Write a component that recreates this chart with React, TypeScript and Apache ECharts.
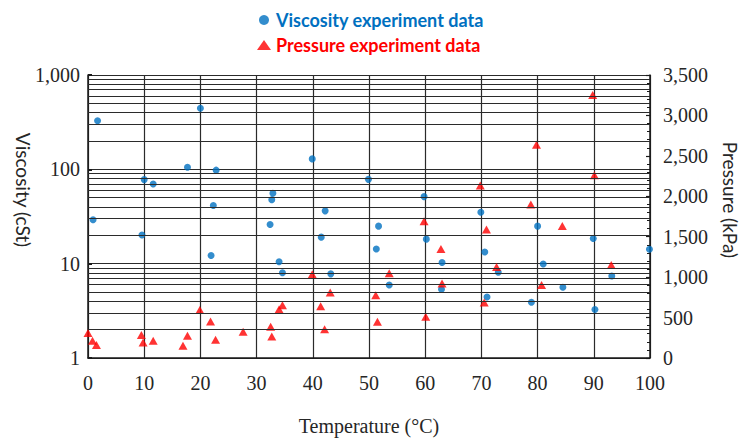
import React, { useEffect, useRef } from 'react';
import * as echarts from 'echarts';

const viscTemp = [1.7, 0.9, 9.6, 10.0, 11.6, 17.7, 20.0, 21.9, 22.3, 22.8, 32.4, 32.7, 32.9, 34.0, 34.6, 39.9, 41.5, 42.2, 43.2, 49.9, 51.3, 51.7, 53.6, 59.8, 60.2, 62.9, 63.0, 69.9, 70.6, 71.0, 73.0, 78.9, 80.0, 81.0, 84.5, 89.9, 90.2, 93.2, 99.9];
const viscValue = [327, 29.2, 20.1, 77.8, 70, 105, 445, 12.2, 41.3, 98, 26, 47.5, 55.7, 10.5, 8.0, 129, 19.1, 36.3, 7.8, 78.3, 14.3, 25, 5.95, 51.4, 18.2, 5.36, 10.3, 35.1, 13.3, 4.44, 8.1, 3.9, 25.0, 9.9, 5.62, 18.5, 3.27, 7.4, 14.2];

const presTemp = [0, 0.8, 1.5, 9.5, 9.8, 11.6, 16.9, 17.7, 19.9, 21.8, 22.7, 27.6, 32.5, 32.7, 34.0, 34.6, 39.9, 41.4, 42.1, 43.1, 51.2, 51.5, 53.6, 59.8, 60.1, 62.8, 63.0, 69.8, 70.5, 70.9, 72.7, 78.8, 79.8, 80.7, 84.4, 89.8, 90.1, 93.1];
const presValue = [308, 213, 160, 283, 193, 213, 152, 275, 595, 452, 226, 324, 386, 267, 604, 653, 1035, 641, 357, 810, 776, 448, 1048, 1692, 509, 1347, 920, 2132, 686, 1590, 1125, 1898, 2637, 903, 1631, 3254, 2259, 1150];

const viscMinorGrid = [2, 3, 4, 5, 6, 7, 8, 9, 20, 30, 40, 50, 60, 70, 80, 90, 200, 300, 400, 500, 600, 700, 800, 900];

const seriesNames = ['Viscosity experiment data', 'Pressure experiment data'];
const xTitle = 'Temperature (°C)';
const leftTitle = 'Viscosity (cSt)';
const rightTitle = 'Pressure (kPa)';

const BLUE = '#0070C0';
const RED = '#FF0000';
const GRID = '#2b2b2b';
const AXIS = '#1a1a1a';
const TXT = '#262626';
const SERIF = 'Liberation Serif';

const fmt = (v: number) => Number(v).toLocaleString('en-US');

export default function App() {
  const ref = useRef<HTMLDivElement>(null);
  useEffect(() => {
    if (!ref.current) return;
    const chart = echarts.init(ref.current, undefined, { renderer: 'svg' });
    const labelFont = { fontFamily: SERIF, fontSize: 20, color: TXT };
    chart.setOption({
      animation: false,
      backgroundColor: '#ffffff',
      grid: { left: 88, right: 90, top: 75, bottom: 82, containLabel: false },
      legend: {
        orient: 'vertical',
        left: 252,
        top: 6,
        itemWidth: 14,
        itemHeight: 10,
        itemGap: 7,
        selectedMode: false,
        textStyle: { fontFamily: 'Lato', fontWeight: 'bold', fontSize: 18, lineHeight: 18 },
        data: [
          { name: seriesNames[0], textStyle: { color: BLUE, fontFamily: 'Lato', fontWeight: 'bold', fontSize: 18 } },
          { name: seriesNames[1], textStyle: { color: RED, fontFamily: 'Lato', fontWeight: 'bold', fontSize: 18 } },
        ],
      },
      xAxis: {
        type: 'value',
        min: 0,
        max: 100,
        interval: 10,
        axisLine: { show: true, lineStyle: { color: AXIS, width: 1.5 } },
        axisTick: { show: false },
        splitLine: { show: true, lineStyle: { color: GRID, width: 1.2 } },
        axisLabel: { ...labelFont, margin: 15 },
        name: xTitle,
        nameLocation: 'middle',
        nameGap: 58,
        nameTextStyle: { fontFamily: SERIF, fontSize: 20, color: TXT },
      },
      yAxis: [
        {
          type: 'log',
          logBase: 10,
          min: 1,
          max: 1000,
          position: 'left',
          axisLine: { show: true, lineStyle: { color: AXIS, width: 1.5 } },
          axisTick: { show: true, inside: true, length: 4, lineStyle: { color: AXIS, width: 2 } },
          splitLine: { show: true, lineStyle: { color: GRID, width: 1.2 } },
          axisLabel: { ...labelFont, margin: 8, formatter: (v: number) => fmt(v) },
        },
        {
          type: 'value',
          min: 0,
          max: 3500,
          interval: 500,
          position: 'right',
          axisLine: { show: true, lineStyle: { color: AXIS, width: 1.5 } },
          axisTick: { show: true, inside: true, length: 4, lineStyle: { color: AXIS, width: 1.2 } },
          minorTick: { show: true, splitNumber: 5, length: 3, lineStyle: { color: AXIS, width: 1 } },
          splitLine: { show: false },
          axisLabel: { ...labelFont, margin: 13, formatter: (v: number) => fmt(v) },
        },
      ],
      series: [
        {
          type: 'scatter',
          name: 'minor-grid',
          data: [],
          yAxisIndex: 0,
          silent: true,
          z: 1,
          markLine: {
            silent: true,
            symbol: ['none', 'none'],
            label: { show: false },
            emphasis: { disabled: true },
            lineStyle: { type: 'solid', color: GRID, width: 1.2 },
            data: viscMinorGrid.map((v) => ({ yAxis: v })),
          },
        },
        {
          type: 'scatter',
          name: seriesNames[0],
          yAxisIndex: 0,
          symbol: 'circle',
          symbolSize: 7,
          clip: false,
          z: 3,
          itemStyle: { color: BLUE },
          data: viscTemp.map((t, i) => [t, viscValue[i]]),
        },
        {
          type: 'scatter',
          name: seriesNames[1],
          yAxisIndex: 1,
          symbol: 'triangle',
          symbolSize: [9, 8],
          clip: false,
          z: 3,
          itemStyle: { color: RED },
          data: presTemp.map((t, i) => [t, presValue[i]]),
        },
      ],
      graphic: [
        {
          type: 'text',
          x: 23,
          y: 190,
          rotation: -Math.PI / 2,
          style: { text: leftTitle, fontFamily: 'Lato', fontSize: 19, fill: TXT, align: 'center', verticalAlign: 'middle' },
        },
        {
          type: 'text',
          x: 730,
          y: 200,
          rotation: -Math.PI / 2,
          style: { text: rightTitle, fontFamily: 'Lato', fontSize: 19, fill: TXT, align: 'center', verticalAlign: 'middle' },
        },
      ],
    });
    return () => chart.dispose();
  }, []);
  return <div ref={ref} style={{ position: 'fixed', left: 0, top: 0, width: 740, height: 441 }} />;
}
